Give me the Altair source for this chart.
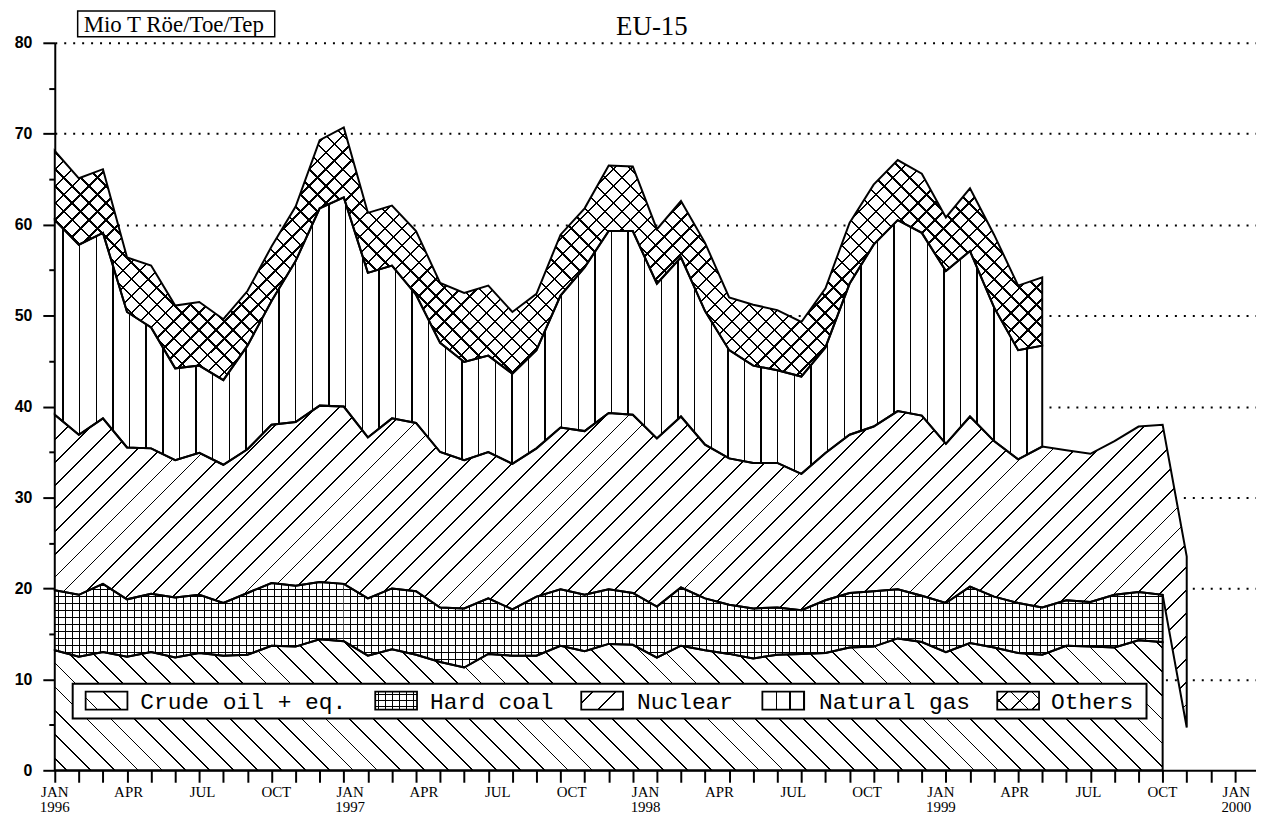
import altair as alt
import pandas as pd

# ---------------- data (Mio t oil equivalent, EU-15, monthly from Jan 1996) ----------------
month_names = ["JAN", "APR", "JUL", "OCT"]
first_year = 1996
n_ticks = 50          # monthly tick marks
n_labels = 17         # quarterly labels JAN 1996 .. JAN 2000

crude_oil = [13.2, 12.5, 13.0, 12.5, 13.0, 12.4, 12.9, 12.6, 12.7, 13.7, 13.6, 14.4,
             14.2, 12.6, 13.3, 12.7, 11.9, 11.3, 12.8, 12.6, 12.6, 13.7, 13.1, 13.9,
             13.8, 12.4, 13.7, 13.2, 12.8, 12.3, 12.7, 12.8, 12.9, 13.5, 13.6, 14.5,
             14.1, 13.0, 14.0, 13.5, 12.9, 12.7, 13.7, 13.6, 13.5, 14.3, 14.1]
hard_coal = [6.6, 6.8, 7.5, 6.3, 6.4, 6.6, 6.4, 5.8, 6.8, 6.9, 6.7, 6.3,
             6.3, 6.3, 6.7, 7.0, 6.0, 6.5, 6.1, 5.1, 6.5, 6.2, 6.2, 6.0,
             5.7, 5.6, 6.4, 5.7, 5.4, 5.5, 5.2, 4.8, 5.8, 6.0, 6.1, 5.4,
             5.1, 5.4, 6.2, 5.6, 5.5, 5.2, 5.0, 4.9, 5.8, 5.3, 5.2]
nuclear = [19.3, 17.6, 18.2, 16.7, 16.0, 15.1, 15.6, 15.2, 15.8, 17.4, 18.0, 19.4,
           19.5, 17.7, 18.7, 18.5, 17.1, 16.3, 16.1, 16.0, 16.3, 17.8, 18.0, 19.4,
           19.6, 18.5, 18.8, 16.9, 16.1, 16.0, 15.9, 15.0, 16.2, 17.4, 18.1, 19.6,
           19.8, 17.5, 18.7, 17.1, 15.8, 17.7, 16.5, 16.3, 16.9, 18.2, 18.7, 18.8]
natural_gas = [21.4, 20.9, 20.4, 14.9, 13.3, 10.1, 9.6, 9.3, 11.4, 13.6, 17.7, 21.7,
               23.0, 18.1, 16.8, 14.1, 12.0, 10.8, 10.6, 9.9, 10.8, 14.5, 18.0, 20.0,
               20.2, 17.0, 17.5, 14.7, 11.9, 10.7, 10.2, 10.7, 11.6, 16.6, 20.0, 21.0,
               20.1, 19.0, 18.2, 14.7, 12.0, 11.1]
others = [7.6, 7.3, 7.0, 6.0, 6.8, 6.9, 7.0, 6.7, 6.0, 6.0, 6.0, 7.5,
          7.7, 6.6, 6.6, 7.0, 6.6, 7.6, 7.7, 6.8, 6.2, 6.7, 6.5, 7.2,
          7.1, 6.0, 6.2, 7.5, 5.8, 6.7, 6.6, 6.0, 6.5, 6.7, 6.6, 6.6,
          6.5, 5.9, 6.9, 8.0, 7.1, 7.5]
# last month: only a partial total is reported; nuclear sits on this base
last_month_base = 4.7

series_names = ["Crude oil + eq.", "Hard coal", "Nuclear", "Natural gas", "Others"]

# ---------------- layout constants ----------------
PX_MONTH = 24.2          # px between monthly data points / ticks
PX_LABEL_STEP = 74.2     # px between quarterly labels
W_PLOT, H_PLOT = 1207, 731
Y_MAX = 80
YPX = H_PLOT / Y_MAX

# ---------------- stacking ----------------
n_nuc = len(nuclear)
coal_hi = [crude_oil[i] + hard_coal[i] for i in range(len(crude_oil))]
base = [coal_hi[i] if i < len(coal_hi) else last_month_base for i in range(n_nuc)]
nuc_hi = [base[i] + nuclear[i] for i in range(n_nuc)]
gas_hi = [nuc_hi[i] + natural_gas[i] for i in range(len(natural_gas))]
oth_hi = [gas_hi[i] + others[i] for i in range(len(others))]

frames = [
    pd.DataFrame({"m": range(len(crude_oil)), "low": [0.0] * len(crude_oil), "high": crude_oil}),
    pd.DataFrame({"m": range(len(coal_hi)), "low": crude_oil, "high": coal_hi}),
    pd.DataFrame({"m": range(n_nuc), "low": base, "high": nuc_hi}),
    pd.DataFrame({"m": range(len(gas_hi)), "low": nuc_hi[:len(gas_hi)], "high": gas_hi}),
    pd.DataFrame({"m": range(len(oth_hi)), "low": gas_hi, "high": oth_hi}),
]

# hatch styles: (direction, period px, line width px); segments = months per fill piece
hatches = [
    [("\\", 24, 1.8)],
    [("v", 7, 1.0), ("h", 7, 1.0)],
    [("/", 23, 1.8)],
    [("v", 16.7, 1.4)],
    [("/", 17, 2.4), ("\\", 17, 2.4)],
]
segment_len = [None, 12, None, None, None]
legend_hatches = [
    [("\\", 24, 1.8, None)],
    [("v", 7, 1.2, None), ("h", 6, 1.2, None)],
    [("/", 23, 1.8, None)],
    [("v", 14, 1.5, 14)],
    [("/", 21, 1.8, None), ("\\", 21, 1.8, None)],
]

CLEAR = "rgba(0,0,0,0)"


def stripes(kind, W, H, period, lw, bg, phase=None):
    if kind == "v":
        L, p = W, (0, 0, 1, 0)
    elif kind == "h":
        L, p = H, (0, 0, 0, 1)
    else:
        m = (W + H) / (W * W + H * H)
        L = W + H
        p = (0, 0, m * W, m * H) if kind == "/" else (0, 1, m * W, 1 - m * H)
    stops = [{"offset": 0, "color": bg}]
    c = period / 2 if phase is None else phase
    while c - lw / 2 < L:
        a = round(max(0.0, (c - lw / 2) / L), 6)
        b = round(min(1.0, (c + lw / 2) / L), 6)
        stops += [{"offset": a, "color": bg}, {"offset": a, "color": "black"},
                  {"offset": b, "color": "black"}, {"offset": b, "color": bg}]
        c += period
    stops.append({"offset": 1, "color": bg})
    return {"gradient": "linear", "x1": round(p[0], 6), "y1": round(p[1], 6),
            "x2": round(p[2], 6), "y2": round(p[3], 6), "stops": stops}


# ---------------- axes ----------------
x_scale = alt.Scale(domain=[0, W_PLOT / PX_MONTH], nice=False, zero=False)
y_scale = alt.Scale(domain=[0, Y_MAX], nice=False)

x_axis = alt.Axis(values=list(range(n_ticks)), labels=False, tickSize=12, tickColor="black", tickWidth=2,
                  domainColor="black", domainWidth=2, grid=False, title=None)
y_axis = alt.Axis(values=list(range(0, Y_MAX + 1, 5)),
                  labelExpr="datum.value % 10 == 0 ? datum.label : ''",
                  tickSize={"condition": {"test": "datum.value % 10 == 0", "value": 12}, "value": 6},
                  grid=True, gridDash=[2, 7], gridColor="black", gridWidth=2,
                  gridOpacity={"condition": {"test": "datum.value % 10 != 0 || datum.value == 0", "value": 0}, "value": 1},
                  domainColor="black", domainWidth=2, tickColor="black", tickWidth=2,
                  labelFont="Liberation Sans", labelFontSize=16, labelFontWeight="bold",
                  labelColor="black", labelPadding=11, title=None)


def enc(ch):
    return ch.encode(x=alt.X("m:Q", scale=x_scale, axis=x_axis),
                     y=alt.Y("high:Q", scale=y_scale, axis=y_axis),
                     y2="low:Q")


fill_layers, outline_layers = [], []
for df, hs, seg in zip(frames, hatches, segment_len):
    if seg:
        cuts = list(range(0, int(df["m"].max()), seg)) + [int(df["m"].max())]
        pieces = [df[(df["m"] >= a) & (df["m"] <= b)] for a, b in zip(cuts[:-1], cuts[1:])]
    else:
        pieces = [df]
    for piece in pieces:
        x0 = piece["m"].min() * PX_MONTH
        top = (Y_MAX - piece["high"].max()) * YPX
        W = (piece["m"].max() - piece["m"].min()) * PX_MONTH
        H = (piece["high"].max() - piece["low"].min()) * YPX
        for k, (kind, per, lw) in enumerate(hs):
            ph = None
            if kind == "v":
                ph = (per / 2 - x0) % per
            elif kind == "h":
                ph = (per / 2 - top) % per
            g = stripes(kind, W, H, per, lw, "white" if k == 0 else CLEAR, ph)
            fill_layers.append(enc(alt.Chart(piece).mark_area(fill=g, opacity=1, fillOpacity=1,
                                                              interpolate="linear")))
    outline_layers.append(enc(alt.Chart(df).mark_area(fill="white", fillOpacity=0, stroke="black",
                                                       strokeWidth=2, interpolate="linear")))

# quarterly axis labels
lab_df = pd.DataFrame({
    "pos": [k * PX_LABEL_STEP / PX_MONTH for k in range(n_labels)],
    "lbl": [month_names[k % 4] + ("\n" + str(first_year + k // 4) if k % 4 == 0 else "")
            for k in range(n_labels)],
})
label_layer = alt.Chart(lab_df).mark_text(
    lineBreak="\n", baseline="top", align="center", font="Liberation Serif", fontSize=15,
    lineHeight=15, color="black"
).encode(x=alt.X("pos:Q", scale=x_scale, axis=x_axis), y=alt.value(H_PLOT + 15), text="lbl:N")

one = pd.DataFrame({"k": [0]})


def rect(x1, x2, y1, y2, fill, stroke=None, sw=0):
    kw = dict(fill=fill, strokeWidth=sw)
    if stroke:
        kw["stroke"] = stroke
    return alt.Chart(one).mark_rect(**kw).encode(x=alt.value(x1), x2=alt.value(x2),
                                                  y=alt.value(y1), y2=alt.value(y2))


def text(x, y, s, font, size, align="left", baseline="alphabetic"):
    return alt.Chart(one).mark_text(text=s, font=font, fontSize=size, align=align, baseline=baseline,
                                    color="black").encode(x=alt.value(x), y=alt.value(y))


deco = []
# legend
deco.append(rect(18, 1097, 644, 679, "white", "black", 2))
sw_x = [31, 322, 529, 711, 947]
tx_x = [86, 377, 585, 768, 1001]
for name, sx, tx, hs in zip(series_names, sw_x, tx_x, legend_hatches):
    for k, (kind, per, lw, ph) in enumerate(hs):
        g = stripes(kind, 42, 18, per, lw, "white" if k == 0 else CLEAR, ph)
        deco.append(rect(sx, sx + 42, 652, 670, g))
    deco.append(rect(sx, sx + 42, 652, 670, CLEAR, "black", 1.8))
    deco.append(text(tx, 662, name, "Liberation Mono", 23, baseline="middle"))

# titles
deco.append(text(600, -8, "EU-15", "Liberation Serif", 27, align="center"))
deco.append(rect(23, 221, -32, -6, "white", "black", 1.5))
deco.append(text(29, -11, "Mio T Röe/Toe/Tep", "Liberation Serif", 23))

chart = alt.layer(*fill_layers, *outline_layers, label_layer, *deco).properties(
    width=W_PLOT, height=H_PLOT,
    autosize=alt.AutoSizeParams(type="none"),
    padding={"left": 47, "top": 33, "right": 0, "bottom": 50},
    background="white",
).configure_view(strokeWidth=0)

chart.save("out.html", embed_options={"renderer": "svg", "actions": False})
